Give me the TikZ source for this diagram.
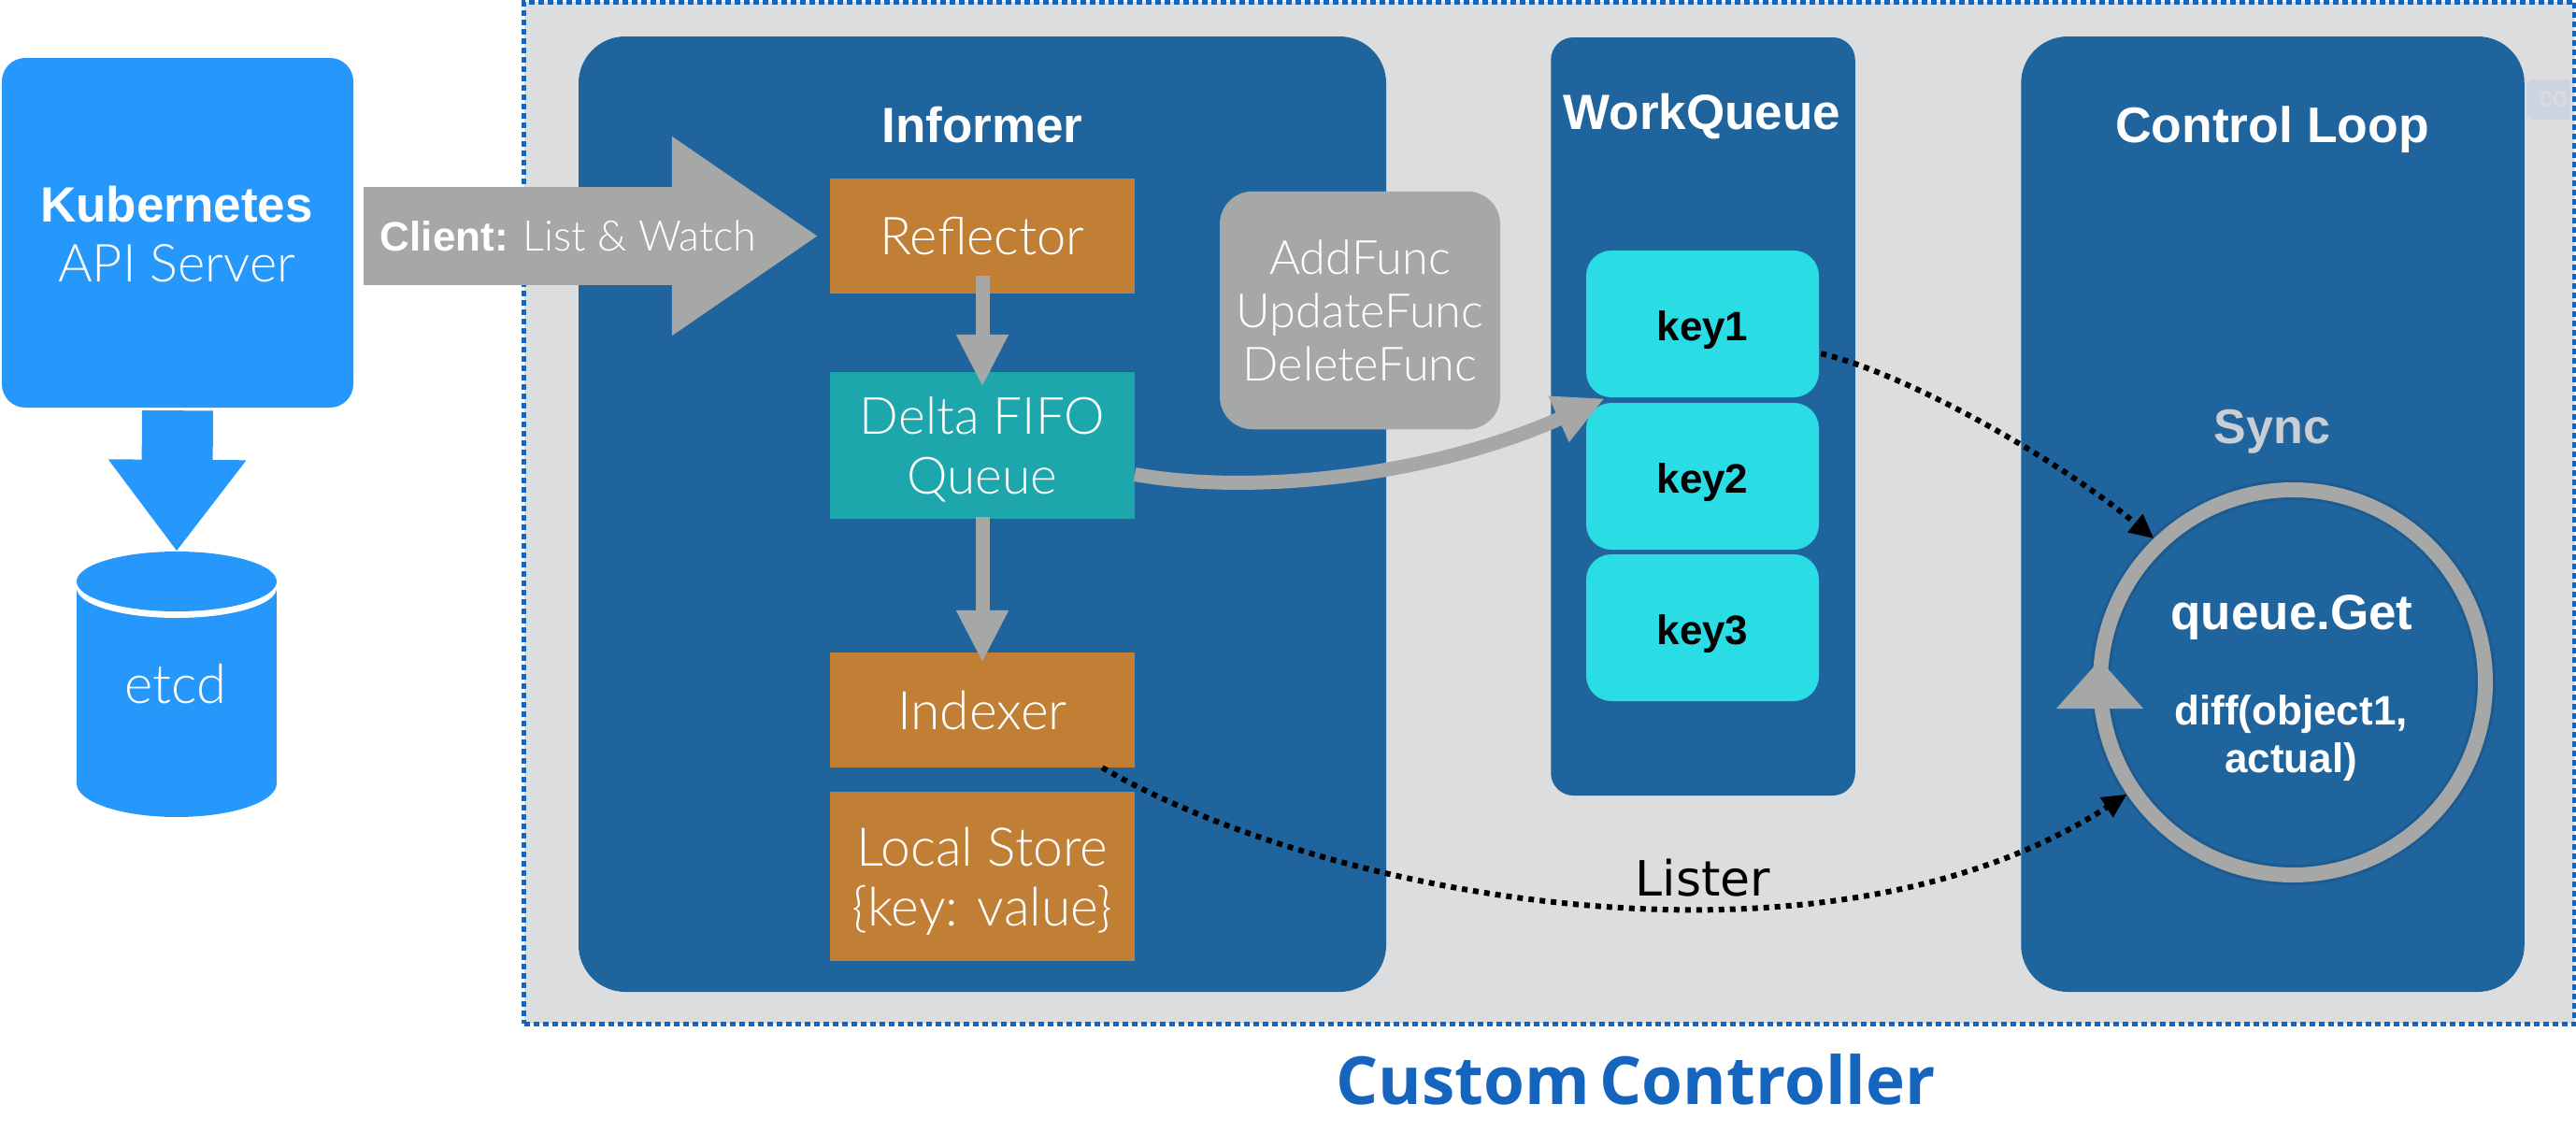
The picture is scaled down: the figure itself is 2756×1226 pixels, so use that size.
\documentclass[tikz,border=0pt]{standalone}
\usepackage{fontspec}
\setmainfont{Liberation Sans}
\newfontfamily\lightfont{Lato Light}
\newfontfamily\titlefont{Open Sans}
\usetikzlibrary{arrows.meta,positioning,calc,shapes.geometric}
\definecolor{apiblue}{HTML}{2698FB}
\definecolor{panel}{HTML}{20649E}
\definecolor{outerbg}{HTML}{DCDDDF}
\definecolor{orangebox}{HTML}{C17F36}
\definecolor{tealbox}{HTML}{1DA6AB}
\definecolor{cyanbox}{HTML}{2ADCE4}
\definecolor{arrowgrey}{HTML}{A5A8A7}
\definecolor{titleblue}{HTML}{1565BE}
\definecolor{syncgrey}{HTML}{C9CED4}
\definecolor{tagfill}{HTML}{CDD5E2}
\newcommand{\fs}[1]{\fontsize{#1}{#1}\selectfont}
\tikzset{
  x=1pt,y=-1pt,
  panelbox/.style={fill=panel,inner sep=0pt,rounded corners=#1},
  flatbox/.style={inner sep=0pt,text=white,align=center,font=\lightfont\fs{56}},
  keybox/.style={fill=cyanbox,inner sep=0pt,rounded corners=27pt,minimum width=249pt,minimum height=157pt,font=\bfseries\fs{44},text=black,text height=36pt,text depth=0pt},
  head/.style={text=white,font=\bfseries\fs{53}},
  greyarrow/.style={draw=arrowgrey,line width=15pt,-{Triangle[length=56pt,width=52pt,fill=arrowgrey]}},
  dotted link/.style={draw=black,line width=6pt,dash pattern=on 6pt off 6pt,-{Triangle[length=26pt,width=24pt,fill=black]}},
}
\begin{document}
\begin{tikzpicture}
\useasboundingbox (0,0) rectangle (2756,1226);
% outer box
\node[draw=titleblue,fill=outerbg,line width=5pt,dash pattern=on 6pt off 4pt,minimum width=2194pt,minimum height=1093pt,inner sep=0pt] (outer) at (1657.5,548.5) {};
% panels
\node[panelbox=50pt,minimum width=864pt,minimum height=1022pt] (informer) at (1051,550) {};
\node[panelbox=24pt,minimum width=325.5pt,minimum height=811pt] (wq) at (1822,445.5) {};
\node[panelbox=50pt,minimum width=538.5pt,minimum height=1022pt] (loop) at (2431.5,550) {};
% stray tag
\begin{scope}
\clip (2703,80) rectangle (2750,133);
\node[fill=tagfill,rounded corners=8pt,minimum width=90pt,minimum height=43pt,inner sep=0pt] (tag) at (2748,106.5) {};
\node[text=outerbg,font=\fs{28},anchor=west,inner sep=0pt] (tagtext) at (2717,106.5) {co};
\end{scope}
% api server
\node[fill=apiblue,rounded corners=25pt,minimum width=376pt,minimum height=374pt,inner sep=0pt] (api) at (190,249) {};
\node[text=white,font=\bfseries\fs{53}] (apia) at (189,219) {Kubernetes};
\node[text=white,font=\lightfont\fs{56}] (apib) at (189,282) {API Server};
% etcd
\fill[apiblue] (82,628) rectangle (296,838);
\fill[apiblue] (189,838) ellipse [x radius=107pt,y radius=36pt];
\fill[white] (189,629) ellipse [x radius=107pt,y radius=32pt];
\node[fill=apiblue,shape=ellipse,minimum width=214pt,minimum height=64pt,inner sep=0pt] (etcdtop) at (189,622) {};
\node[text=white,font=\lightfont\fs{58}] (etcd) at (188,732) {etcd};
\draw[draw=apiblue,line width=76pt,-{Triangle[length=98pt,width=141pt,fill=apiblue]}] ([yshift=-3pt]api.south) -- (etcdtop.north);
% boxes
\node[flatbox,fill=orangebox,minimum width=326pt,minimum height=123.5pt] (reflector) at (1051,252.5) {Reflector};
\node[flatbox,fill=tealbox,minimum width=326pt,minimum height=157pt,font=\lightfont\fs{55},text depth=0pt] (delta) at (1051,476.5) {Delta FIFO\\[9pt]Queue};
\node[flatbox,fill=orangebox,minimum width=326pt,minimum height=123pt,font=\lightfont\fs{57}] (indexer) at (1051,759.5) {Indexer};
\node[flatbox,fill=orangebox,minimum width=326pt,minimum height=181pt,font=\lightfont\fs{57},text depth=0pt] (store) at (1051,937.5) {Local Store\\[7pt]\{key: value\}};
\node[fill=arrowgrey,rounded corners=35pt,minimum width=300pt,minimum height=254.5pt,inner sep=0pt,text=white,align=center,font=\lightfont\fs{50.5}] (funcs) at (1455,332) {AddFunc\\[6.5pt]UpdateFunc\\[6.5pt]DeleteFunc};
% titles
\node[head] (informert) at (1051,134) {Informer};
\node[head] (wqt) at (1821,125) {WorkQueue};
\node[head,font=\bfseries\fs{53.5}] (loopt) at (2431,139) {Control Loop};
\node[text=syncgrey,font=\bfseries\fs{52}] (sync) at (2431,462) {Sync};
% keys
\node[keybox] (key1) at (1821.5,346.5) {key1};
\node[keybox] (key2) at (1821.5,509.5) {key2};
\node[keybox] (key3) at (1821.5,671.5) {key3};
% ring
\node[draw=black,draw opacity=0.09,line width=22pt,circle,minimum size=412pt,inner sep=0pt] (ringshadow) at (2453,730) {};
\node[draw=arrowgrey,line width=16pt,circle,minimum size=412pt,inner sep=0pt] (ring) at (2453,730) {};
\fill[arrowgrey] (2246.6,706) -- (2293,758) -- (2200,758) -- cycle;
\node[text=white,font=\bfseries\fs{53}] (qget) at (2452,660) {queue.Get};
\node[text=white,font=\bfseries\fs{44},align=center] (diff) at (2451,790) {diff(object1,\\[7pt]actual)};
% connectors
\draw[draw=arrowgrey,line width=105pt,-{Triangle[length=157pt,width=202pt,fill=arrowgrey]}] ([xshift=11pt]api.east |- reflector.west) -- ([xshift=-12pt]reflector.west) node[pos=0.45,text=white,font=\fs{44},inner sep=0pt] (client) {{\bfseries Client:} {\lightfont\fs{45}List \& Watch}};
\draw[greyarrow] ([yshift=19pt]reflector.south) -- ([yshift=-16pt]delta.north);
\draw[greyarrow] ([yshift=2pt]delta.south) -- ([yshift=-11pt]indexer.north);
\draw[draw=arrowgrey,line width=15pt,-{Triangle[length=54pt,width=50pt,fill=arrowgrey]}] ([yshift=-31pt]delta.east) .. controls (1340,530) and (1530,510) .. ([xshift=20pt,yshift=-1pt]key1.south west);
\draw[dotted link] ([xshift=2pt,yshift=47pt]key1.south east) .. controls (2040,400) and (2200,490) .. (ring.134);
\draw[dotted link] ([xshift=-35pt]indexer.south east) .. controls (1420,960) and (1950,1060) .. (ring.214);
\node[text=black,font=\fontspec{DejaVu Sans}\fs{52}] (lister) at (1822,939) {Lister};
% caption
\node[text=titleblue,font=\titlefont\bfseries\fs{71}] (caption) at (1750,1155) {Custom\hspace{-8pt} Controller};
\end{tikzpicture}
\end{document}
